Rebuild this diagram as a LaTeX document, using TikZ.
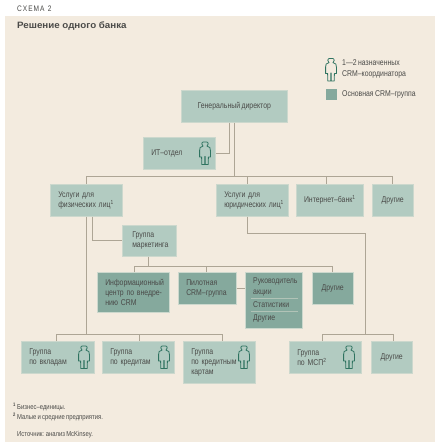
\documentclass[tikz,border=0pt]{standalone}
\usepackage{fontspec}
\setmainfont[FakeStretch=0.82,WordSpace=0.75]{Liberation Sans}
\newfontfamily\titlefont[FakeStretch=1.06]{Liberation Sans}
\usepackage{xcolor}
\usetikzlibrary{positioning,calc}
\definecolor{paper}{HTML}{F3EBDF}
\definecolor{lightteal}{HTML}{B2CBC1}
\definecolor{darkteal}{HTML}{85A99D}
\definecolor{linktan}{HTML}{ADA595}
\definecolor{inktext}{HTML}{4A4A48}
\definecolor{persongreen}{HTML}{2F7360}
\newcommand{\boxlines}[1]{\rlap{\parbox{100pt}{\raggedright #1}}}
\tikzset{
  boxbase/.style={anchor=north west,draw=paper!40!lightteal,line width=0.5pt,inner ysep=0pt,text=inktext,
    font=\fontsize{8.4}{10.2}\selectfont},
  lightbox/.style={boxbase,fill=lightteal},
  darkbox/.style={boxbase,fill=darkteal},
  textleft/.style={align=left,inner xsep=8pt},
  textmid/.style={align=center,inner xsep=0pt},
  label/.style={anchor=west,inner sep=0pt,text=inktext,font=\fontsize{8.4}{10.2}\selectfont,align=left},
  note/.style={label,font=\fontsize{7.2}{8}\selectfont},
  link/.style={draw=linktan,line width=0.9pt},
  person/.pic={
    \draw[persongreen,line width=0.8pt,fill=none,line join=round]
      (-1.8,-11.5) .. controls (-3.6,-11.5) and (-3.6,-7.6) .. (-2,-7.4)
      .. controls (-5,-7) and (-5.4,-5.5) .. (-5.4,-3) -- (-5.4,3.5) -- (-3.4,3.5) -- (-3.2,11) -- (-0.3,11)
      -- (-0.3,3) -- (0.3,3) -- (0.3,11) -- (3.2,11) -- (3.4,3.5) -- (5.4,3.5) -- (5.4,-3)
      .. controls (5.4,-5.5) and (5,-7) .. (2,-7.4)
      .. controls (3.6,-7.6) and (3.6,-11.5) .. (1.8,-11.5) -- cycle;
  }
}
\begin{document}
\begin{tikzpicture}[x=1pt,y=-1pt]
  \useasboundingbox (0,0) rectangle (440,447);
  \fill[white] (0,0) rectangle (440,447);
  \fill[paper] (5,16) rectangle (435,442);
  % heading
  \node[label,font=\fontsize{8}{9}\selectfont] (schema) at (17,9) {С\kern1pt Х\kern1pt Е\kern1pt М\kern1pt А\kern2pt\,2};
  \node[label,font=\fontsize{9.2}{10}\titlefont\bfseries] (heading) at (17,26) {Решение одного банка};
  % legend
  \pic at (331,70) {person};
  \node[label] (legendperson) at (342,69) {1—2 назначенных\\CRM–координатора};
  \node[darkbox,minimum width=11pt,minimum height=11pt,inner sep=0pt,draw=none] (legendbox) at (326,89) {};
  \node[label] (legendtext) at (342,94.5) {Основная CRM–группа};
  % top
  \node[lightbox,textmid,minimum width=106pt,minimum height=32pt] (ceo) at (181,90) {Генеральный директор};
  \node[lightbox,textleft,text width=56pt,minimum height=32pt] (itdept) at (143,137) {\boxlines{ИТ–отдел}};
  \node[lightbox,textleft,text width=56pt,minimum height=32pt] (retail) at (50,184) {\boxlines{Услуги для\\физических лиц\textsuperscript{1}}};
  \node[lightbox,textleft,text width=56pt,minimum height=32pt] (corporate) at (216,184) {\boxlines{Услуги для\\юридических лиц\textsuperscript{1}}};
  \node[lightbox,textmid,minimum width=67pt,minimum height=32pt] (ebank) at (296,184) {Интернет–банк\textsuperscript{1}};
  \node[lightbox,textmid,minimum width=41pt,minimum height=32pt] (otherstop) at (372,184) {Другие};
  % middle
  \node[lightbox,textleft,inner xsep=10pt,text width=34pt,minimum height=31pt] (marketing) at (122,225) {\boxlines{Группа\\маркетинга}};
  \node[darkbox,textleft,text width=56pt,minimum height=40pt] (infocenter) at (97,272) {\boxlines{Информационный\\центр по внедре-\\нию CRM}};
  \node[darkbox,textleft,text width=42pt,minimum height=32pt] (pilot) at (178,272) {\boxlines{Пилотная\\CRM–группа}};
  \node[darkbox,minimum width=57pt,minimum height=56pt] (head) at (245,272) {};
  \node[darkbox,textmid,minimum width=41pt,minimum height=32pt] (othersmid) at (312,272) {Другие};
  \node[label] (headtext) at ($(head.north west)+(8,15)$) {Руководитель\\акции};
  \node[label] (stats) at ($(head.north west)+(8,33)$) {Статистики};
  \node[label] (headother) at ($(head.north west)+(8,46)$) {Другие};
  \draw[paper!40!darkteal,line width=0.4pt] ($(head.north west)+(6,26)$) -- ($(head.north east)+(-5,26)$);
  \draw[paper!40!darkteal,line width=0.4pt] ($(head.north west)+(6,39)$) -- ($(head.north east)+(-5,39)$);
  % bottom
  \node[lightbox,textleft,text width=57pt,minimum height=32pt] (deposits) at (21,341) {\boxlines{Группа\\по вкладам}};
  \node[lightbox,textleft,text width=56pt,minimum height=32pt] (loans) at (102,341) {\boxlines{Группа\\по кредитам}};
  \node[lightbox,textleft,text width=56pt,minimum height=42pt] (cards) at (183,341) {\boxlines{Группа\\по кредитным\\картам}};
  \node[lightbox,textleft,text width=56pt,minimum height=32pt] (sme) at (289,341) {\boxlines{Группа\\по МСП\textsuperscript{2}}};
  \node[lightbox,textmid,minimum width=41pt,minimum height=32pt] (othersbot) at (371,341) {Другие};
  % people in boxes
  \pic at (205,153.5) {person};
  \pic at (84,357.5) {person};
  \pic at (164,357.5) {person};
  \pic at (244,357.5) {person};
  \pic at (349,357.5) {person};
  % connectors
  \draw[link] (ceo.south) -- (ceo.south |- 0,176);
  \draw[link] ([xshift=-5pt]ceo.south) |- (itdept.east);
  \coordinate (topbus) at (234,176);
  \draw[link] (retail.north) |- (topbus);
  \draw[link] ([xshift=-5pt]corporate.north) |- (topbus);
  \draw[link] ([xshift=-3.5pt]ebank.north) |- (topbus);
  \draw[link] (otherstop.north) |- (topbus);
  \draw[link] ([xshift=6pt]retail.south) |- (marketing.west);
  \coordinate (midbus) at (148,266);
  \draw[link] ([xshift=-1pt]marketing.south) |- (midbus);
  \draw[link] ([xshift=1pt]infocenter.north) |- (midbus);
  \draw[link] ([xshift=-1pt]pilot.north) |- (midbus);
  \draw[link] (othersmid.north) |- (midbus);
  \draw[link] (pilot.east) -- (pilot.east -| head.west);
  \coordinate (lowbus) at (retail.south |- 0,334);
  \draw[link] (retail.south) -- (lowbus);
  \draw[link] ([xshift=-1.5pt]deposits.north) |- (lowbus);
  \draw[link] ([xshift=1pt]loans.north) |- (lowbus);
  \draw[link] ([xshift=3pt]cards.north) |- (lowbus);
  \coordinate (jurbus) at (365,334);
  \draw[link] ([xshift=-5pt]corporate.south) |- (365,233) -- (jurbus);
  \draw[link] ([xshift=-3pt]sme.north) |- (jurbus);
  \draw[link] ([xshift=1.5pt]othersbot.north) |- (jurbus);
  % notes
  \node[note] (noteone) at (13,407) {\textsuperscript{\textbf{1}} Бизнес–единицы.};
  \node[note] (notetwo) at (13,417) {\textsuperscript{\textbf{2}} Малые и средние предприятия.};
  \node[note] (source) at (17,435) {Источник: анализ McKinsey.};
\end{tikzpicture}
\end{document}
